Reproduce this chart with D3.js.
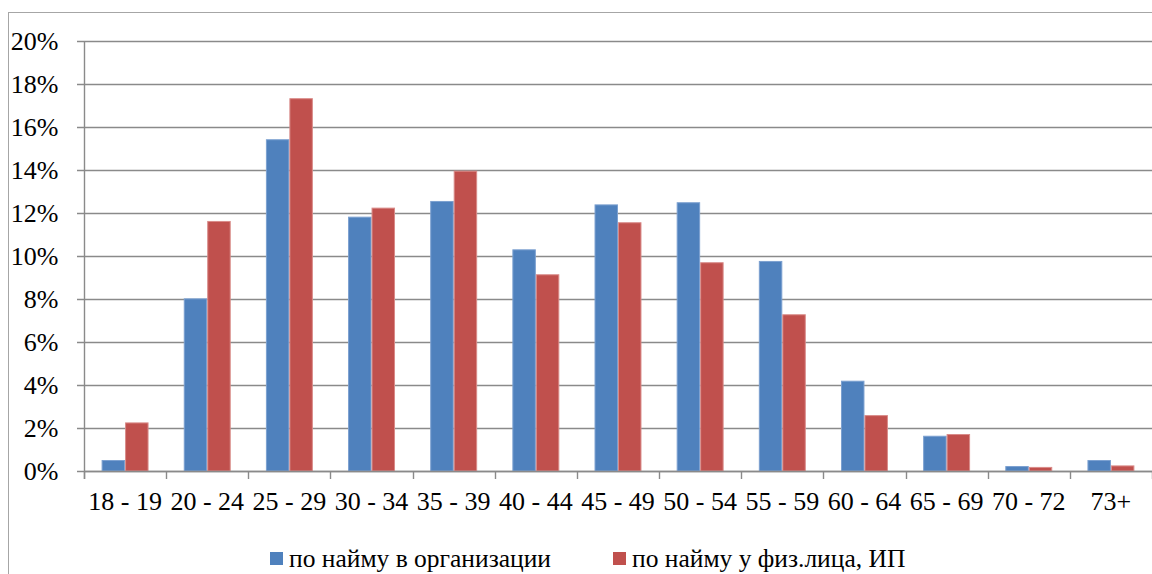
<!DOCTYPE html>
<html>
<head>
<meta charset="utf-8">
<script src="https://cdn.jsdelivr.net/npm/d3@7/dist/d3.min.js"></script>
<style>
  html, body { margin: 0; padding: 0; background: #fff; }
  svg { display: block; }
</style>
</head>
<body>
<svg id="chart" width="1152" height="574"></svg>
<script>
const categories = ["18 - 19","20 - 24","25 - 29","30 - 34","35 - 39","40 - 44","45 - 49","50 - 54","55 - 59","60 - 64","65 - 69","70 - 72","73+"];
const seriesNames = ["по найму в организации", "по найму у физ.лица, ИП"];
const orgValues = [0.51, 8.03, 15.43, 11.83, 12.56, 10.31, 12.40, 12.50, 9.77, 4.20, 1.64, 0.23, 0.51];
const indValues = [2.26, 11.63, 17.34, 12.25, 13.97, 9.15, 11.57, 9.71, 7.29, 2.60, 1.72, 0.19, 0.26];
const yTicks = [0, 2, 4, 6, 8, 10, 12, 14, 16, 18, 20];
const colors = ["#4F81BD", "#C0504D"];
const edgeColors = ["#7ba0d0", "#d98b89"];

const FONT = '"Liberation Serif"';
const svg = d3.select("#chart");
const pLeft = 84, pRight = 1152, pTop = 41, pBottom = 471;
const gridColor = "#8a8a8a";

// outer chart border
svg.append("rect").attr("x", 8.5).attr("y", 12.5).attr("width", 1200).attr("height", 700)
  .attr("fill", "none").attr("stroke", "#a6a6a6").attr("stroke-width", 1);

const x = d3.scaleBand().domain(categories).range([pLeft, pRight]).paddingInner(0).paddingOuter(0);
const y = d3.scaleLinear().domain([0, 20]).range([pBottom, pTop]);
const xs = d3.scaleBand().domain([0, 1]).range([0, x.bandwidth()]).paddingInner(0).paddingOuter(0.75);

// gridlines
svg.append("g").selectAll("line").data(yTicks).join("line")
  .attr("x1", pLeft - 7).attr("x2", pRight + 10)
  .attr("y1", d => Math.round(y(d)) + 0.5).attr("y2", d => Math.round(y(d)) + 0.5)
  .attr("stroke", gridColor).attr("stroke-width", 1.4);

// y labels
svg.append("g").selectAll("text").data(yTicks).join("text")
  .attr("x", 58.5).attr("y", d => y(d)).attr("dy", "0.34em")
  .attr("text-anchor", "end").attr("font-size", 26).attr("fill", "#000")
  .style("font-family", FONT)
  .text(d => d + "%");

// bars
const groups = svg.append("g").selectAll("g").data(categories).join("g")
  .attr("transform", d => `translate(${x(d)},0)`);
[orgValues, indValues].forEach((vals, si) => {
  groups.append("rect")
    .attr("x", xs(si) + 0.5)
    .attr("width", xs.bandwidth() - 1)
    .attr("y", (d, i) => y(vals[i]) + 0.5)
    .attr("height", (d, i) => Math.max(0, pBottom - y(vals[i]) - 0.5))
    .attr("fill", colors[si])
    .attr("stroke", edgeColors[si]).attr("stroke-width", 1);
});

// y axis line
svg.append("line").attr("x1", pLeft + 0.5).attr("x2", pLeft + 0.5).attr("y1", pTop).attr("y2", pBottom + 8)
  .attr("stroke", gridColor).attr("stroke-width", 1.4);
// x axis line
svg.append("line").attr("x1", pLeft).attr("x2", pRight + 10).attr("y1", pBottom + 0.5).attr("y2", pBottom + 0.5)
  .attr("stroke", gridColor).attr("stroke-width", 1.4);
// x ticks
const xTickPos = categories.map(c => x(c)).concat([x(categories[categories.length - 1]) + x.bandwidth()]);
svg.append("g").selectAll("line").data(xTickPos).join("line")
  .attr("x1", d => Math.round(d) + 0.5).attr("x2", d => Math.round(d) + 0.5)
  .attr("y1", pBottom).attr("y2", pBottom + 8)
  .attr("stroke", gridColor).attr("stroke-width", 1.4);

// x labels
svg.append("g").selectAll("text").data(categories).join("text")
  .attr("x", d => x(d) + x.bandwidth() / 2).attr("y", 510)
  .attr("text-anchor", "middle").attr("font-size", 26).attr("fill", "#000")
  .style("font-family", FONT)
  .text(d => d);

// legend
const legendItems = [{x: 270, name: seriesNames[0], c: colors[0]}, {x: 613, name: seriesNames[1], c: colors[1]}];
const lg = svg.append("g").selectAll("g").data(legendItems).join("g");
lg.append("rect").attr("x", d => d.x).attr("y", 552).attr("width", 13).attr("height", 13).attr("fill", d => d.c);
lg.append("text").attr("x", d => d.x + 19).attr("y", 567).attr("font-size", 25.5).attr("fill", "#000")
  .style("font-family", FONT).text(d => d.name);
</script>
</body>
</html>
